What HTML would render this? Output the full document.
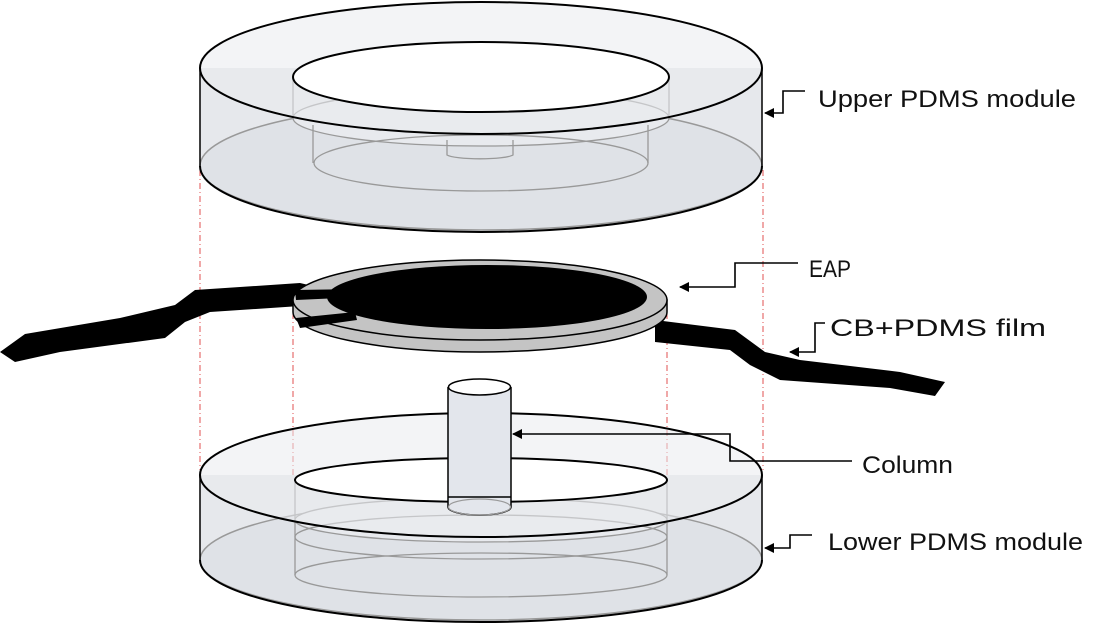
<!DOCTYPE html>
<html><head><style>body{margin:0;background:#fff}svg{display:block}text{font-family:"Liberation Sans",sans-serif;font-size:24px;fill:#111}</style></head><body>
<svg width="1102" height="625" viewBox="0 0 1102 625">
<defs><marker id="a" markerWidth="10" markerHeight="10" refX="9" refY="5" orient="auto" markerUnits="userSpaceOnUse"><path d="M0,0 L10,5 L0,10z" fill="#000"/></marker></defs>
<g stroke="#e05050" stroke-width="1" stroke-dasharray="6,3,1,3">
<line x1="200" y1="170" x2="200" y2="470"/><line x1="763" y1="170" x2="763" y2="470"/>
<line x1="293" y1="300" x2="293" y2="500"/><line x1="667" y1="300" x2="667" y2="500"/>
</g>
<g>
<path d="M200,68 L200,166 A281,66 0 0 0 762,166 L762,68 Z" fill="#e6e8ec" stroke="none"/>
<ellipse cx="481" cy="166" rx="281" ry="64" fill="#dfe2e7" stroke="#999" stroke-width="1.5"/>
<g fill="none" stroke="#999" stroke-width="1.3">
<line x1="293" y1="78" x2="293" y2="118"/><line x1="669" y1="78" x2="669" y2="118"/>
<ellipse cx="481" cy="118" rx="188" ry="28" fill="#e8eaee"/>
<line x1="313" y1="125" x2="313" y2="163"/><line x1="648" y1="125" x2="648" y2="163"/>
<ellipse cx="481" cy="163" rx="167" ry="28"/>
<path d="M447,140 L447,155 A34,5 0 0 0 513,155 L513,140"/>
</g>
<path d="M200,166 A281,66 0 0 0 762,166" fill="none" stroke="#000" stroke-width="2"/>
<line x1="200" y1="68" x2="200" y2="166" stroke="#000" stroke-width="1.5"/>
<line x1="762" y1="68" x2="762" y2="166" stroke="#000" stroke-width="1.5"/>
<ellipse cx="481" cy="68" rx="281" ry="66" fill="#e9ebef" fill-opacity="0.55" stroke="#000" stroke-width="2"/>
<ellipse cx="481" cy="77" rx="188" ry="35" fill="#fff" stroke="#000" stroke-width="2"/>
</g>
<path d="M0,352 L25,334 L120,318 L175,305 L195,290 L300,283 L330,290 L300,306 L210,312 L185,322 L165,338 L60,352 L15,362 Z" fill="#000"/>
<path d="M655,320 L735,330 L765,352 L800,360 L900,372 L945,382 L935,396 L890,388 L780,380 L750,365 L730,350 L655,342 Z" fill="#000"/>
<path d="M293,300 L293,312 A187,40 0 0 0 667,312 L667,300 Z" fill="#c4c4c4" stroke="#000" stroke-width="1.5"/>
<ellipse cx="480" cy="300" rx="187" ry="40" fill="#c4c4c4" stroke="#000" stroke-width="1.5"/>
<ellipse cx="487" cy="297" rx="160" ry="32" fill="#000"/>
<path d="M295,290 L360,289 L362,297 L296,300 Z M296,318 L355,312 L357,320 L300,328 Z" fill="#000"/>
<g>
<path d="M200,475 L200,560 A281,62 0 0 0 762,560 L762,475 Z" fill="#e6e8ec"/>
<ellipse cx="481" cy="560" rx="281" ry="60" fill="#dfe2e7" stroke="#999" stroke-width="1.5"/>
<g fill="none" stroke="#999" stroke-width="1.3">
<line x1="295" y1="482" x2="295" y2="575"/><line x1="667" y1="482" x2="667" y2="575"/>
<ellipse cx="481" cy="520" rx="186" ry="22" fill="#e8eaee"/>
<ellipse cx="481" cy="537" rx="186" ry="22"/>
<ellipse cx="481" cy="575" rx="186" ry="22"/>
</g>
<path d="M200,560 A281,62 0 0 0 762,560" fill="none" stroke="#000" stroke-width="2"/>
<line x1="200" y1="475" x2="200" y2="560" stroke="#000" stroke-width="1.5"/>
<line x1="762" y1="475" x2="762" y2="560" stroke="#000" stroke-width="1.5"/>
<ellipse cx="481" cy="475" rx="281" ry="62" fill="#e9ebef" fill-opacity="0.55" stroke="#000" stroke-width="2"/>
<ellipse cx="481" cy="480" rx="186" ry="22" fill="#fff" stroke="#000" stroke-width="2"/>
</g>
<path d="M448,387 L448,507 A31,8 0 0 0 511,507 L511,387" fill="#e3e6ec" stroke="#000" stroke-width="1.5"/>
<ellipse cx="479.5" cy="507" rx="31" ry="8" fill="none" stroke="#999" stroke-width="1.2"/>
<line x1="448" y1="497" x2="511" y2="497" stroke="#000" stroke-width="1.5"/>
<ellipse cx="479.5" cy="387" rx="31" ry="8" fill="#fff" stroke="#000" stroke-width="1.5"/>
<g fill="none" stroke="#000" stroke-width="1.6" marker-end="url(#a)">
<polyline points="805,91 783,91 783,113 765,113"/>
<polyline points="798,263 735,263 735,287 680,287"/>
<polyline points="825,323 815,323 815,352 790,352"/>
<polyline points="852,461 730,461 730,434 513,434"/>
<polyline points="812,535 790,535 790,548 765,548"/>
</g>
<text x="818" y="107" textLength="258" lengthAdjust="spacingAndGlyphs">Upper PDMS module</text>
<text x="809" y="277" textLength="42" lengthAdjust="spacingAndGlyphs">EAP</text>
<text x="830" y="336" textLength="216" lengthAdjust="spacingAndGlyphs">CB+PDMS film</text>
<text x="862" y="473" textLength="91" lengthAdjust="spacingAndGlyphs">Column</text>
<text x="828" y="550" textLength="255" lengthAdjust="spacingAndGlyphs">Lower PDMS module</text>
</svg>
</body></html>
